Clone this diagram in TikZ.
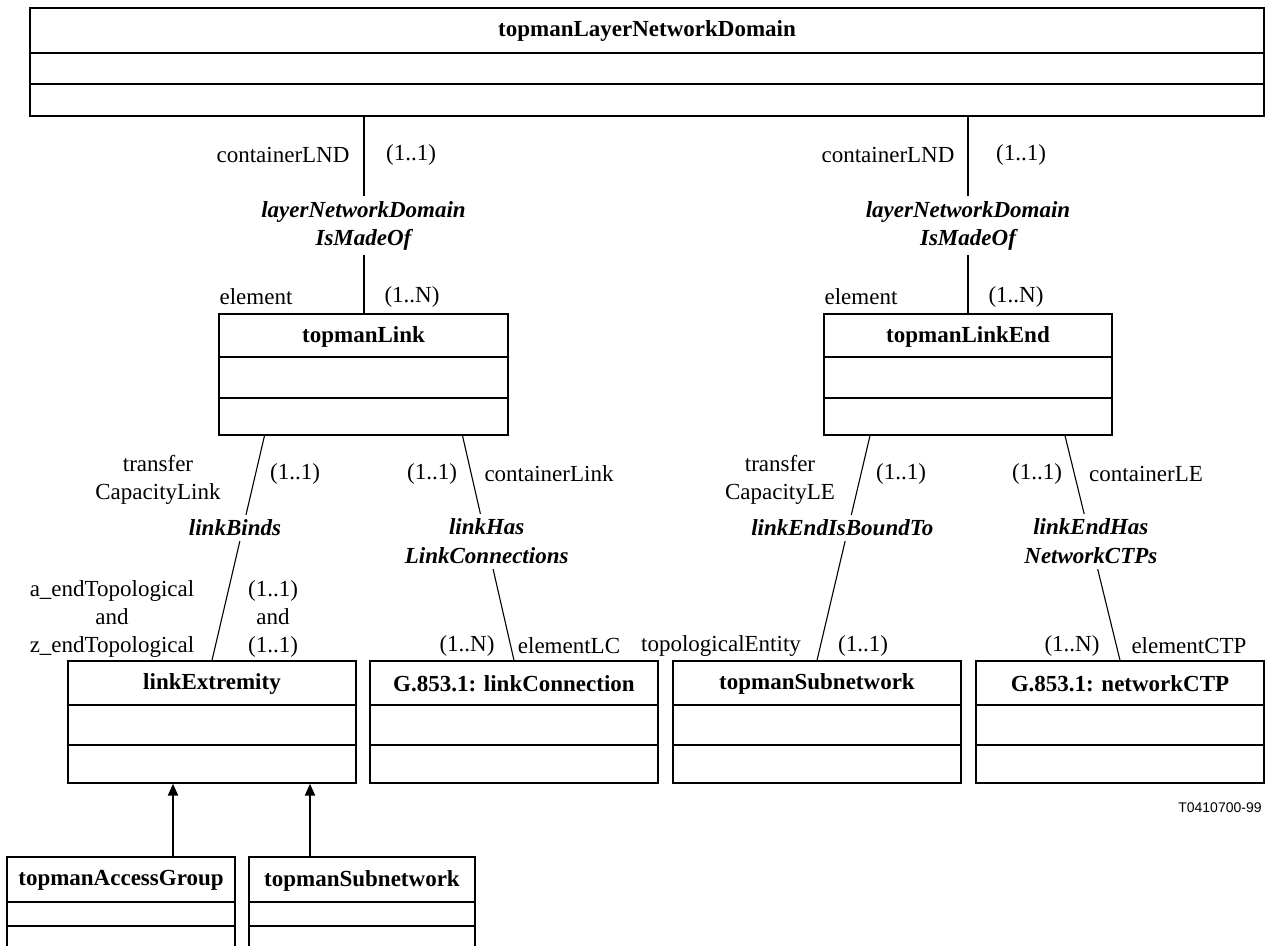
\documentclass[tikz,border=0pt]{standalone}
\usepackage{fontspec}
\setmainfont{Liberation Serif}
\newfontfamily\figfont{Liberation Sans}
\usetikzlibrary{arrows.meta}
\usetikzlibrary{calc}
\usetikzlibrary{fit}

% class box: name, left, right, top, first rule, second rule, bottom, title
\newcommand{\umlclass}[8]{%
	\node[classbox, fit={(#2,#4) (#3,#7)}] (#1) {};
	\draw[rule] (#2,#5) -- (#3,#5) (#2,#6) -- (#3,#6);
	\node[classname] (#1-name) at ({(#2+#3)/2},{(#4+#5)/2+1}) {#8};
}

\begin{document}
\begin{tikzpicture}[x=0.5pt, y=-0.5pt,
	font=\fontsize{11.5}{14.2}\selectfont,
	classbox/.style = {draw, line width=0.7pt, inner sep=0pt},
	rule/.style = {line width=0.7pt},
	classname/.style = {font=\fontsize{11.5}{14.2}\selectfont\bfseries, inner sep=0pt},
	role/.style = {align=center, inner sep=0pt},
	relname/.style = {font=\fontsize{11.5}{14.2}\selectfont\bfseries\itshape,
		align=center, fill=white, inner sep=2.5pt},
	assoc/.style = {line width=0.55pt},
	contain/.style = {line width=1pt},
	genarrow/.style = {-{Triangle[width=5pt,length=6pt]}, line width=1.1pt}]
	
	\useasboundingbox (0,0) rectangle (1268,946);
	
	% Layer network domain
	\umlclass{lnd}{30}{1264}{8}{53}{84}{116}{topmanLayerNetworkDomain}
	
	% Link and link end
	\umlclass{link}{219}{508}{314}{357}{398}{435}{topmanLink}
	\umlclass{linkend}{824}{1112}{314}{357}{398}{435}{topmanLinkEnd}
	
	% Lower row
	\umlclass{ext}{68}{356}{661}{705}{745}{783}{linkExtremity}
	\umlclass{lc}{370}{658}{661}{705}{745}{783}{G.853.1: linkConnection}
	\umlclass{sub}{673}{961}{661}{705}{745}{783}{topmanSubnetwork}
	\umlclass{ctp}{976}{1264}{661}{705}{745}{783}{G.853.1: networkCTP}
	
	% Subclasses of linkExtremity
	\umlclass{ag}{7}{235}{857}{902}{926}{990}{topmanAccessGroup}
	\umlclass{subnet}{249}{475}{857}{902}{926}{990}{topmanSubnetwork}
	
	% Containment of link and link end
	\draw[contain] (lnd.south -| link.north) -- node[relname, pos=.555] {layerNetworkDomain\\IsMadeOf} (link.north);
	\draw[contain] (lnd.south -| linkend.north) -- node[relname, pos=.555] {layerNetworkDomain\\IsMadeOf} (linkend.north);
	
	\node[role] (r1) at (283,155) {containerLND};
	\node[role] (m1) at (411,155) {(1..1)};
	\node[role] (r2) at (888,155) {containerLND};
	\node[role] (m2) at (1021,155) {(1..1)};
	\node[role] (r3) at (256,297) {element};
	\node[role] (m3) at (412,297) {(1..N)};
	\node[role] (r4) at (861,297) {element};
	\node[role] (m4) at (1016,297) {(1..N)};
	
	% Relationships of link
	\draw[assoc] ($(link.south)+(-99,0)$) -- node[relname, pos=.41, xshift=-4pt] {linkBinds} (ext.north);
	\draw[assoc] ($(link.south)+(99,0)$) -- node[relname, pos=.47] {linkHas\\LinkConnections} (lc.north);
	
	\node[role] (r5) at (158,480) {transfer\\CapacityLink};
	\node[role] (m5) at (295,474) {(1..1)};
	\node[role] (m6) at (432,474) {(1..1)};
	\node[role] (r6) at (549,474) {containerLink};
	\node[role] (r7) at (112,619) {a\_endTopological\\and\\z\_endTopological};
	\node[role] (m7) at (273,619) {(1..1)\\and\\(1..1)};
	\node[role] (m8) at (467,646) {(1..N)};
	\node[role] (r8) at (569,646) {elementLC};
	
	% Relationships of link end
	\draw[assoc] ($(linkend.south)+(-98,0)$) -- node[relname, pos=.41, xshift=-3pt] {linkEndIsBoundTo} (sub.north);
	\draw[assoc] ($(linkend.south)+(97,0)$) -- node[relname, pos=.47] {linkEndHas\\NetworkCTPs} (ctp.north);
	
	\node[role] (r9) at (780,480) {transfer\\CapacityLE};
	\node[role] (m9) at (901,474) {(1..1)};
	\node[role] (m10) at (1037,474) {(1..1)};
	\node[role] (r10) at (1146,474) {containerLE};
	\node[role] (r11) at (721,646) {topologicalEntity};
	\node[role] (m11) at (863,646) {(1..1)};
	\node[role] (m12) at (1072,646) {(1..N)};
	\node[role] (r12) at (1189,646) {elementCTP};
	
	% Inheritance
	\coordinate (agtop) at ($(ag.north)+(52,0)$);
	\coordinate (subtop) at ($(subnet.north)+(-52,0)$);
	\draw[genarrow] (agtop) -- (agtop |- ext.south);
	\draw[genarrow] (subtop) -- (subtop |- ext.south);
	
	% Figure number
	\node[anchor=east, inner sep=0pt, font=\figfont\fontsize{7}{8}\selectfont] (fig) at (1262,808) {T0410700-99};
	
\end{tikzpicture}
\end{document}
